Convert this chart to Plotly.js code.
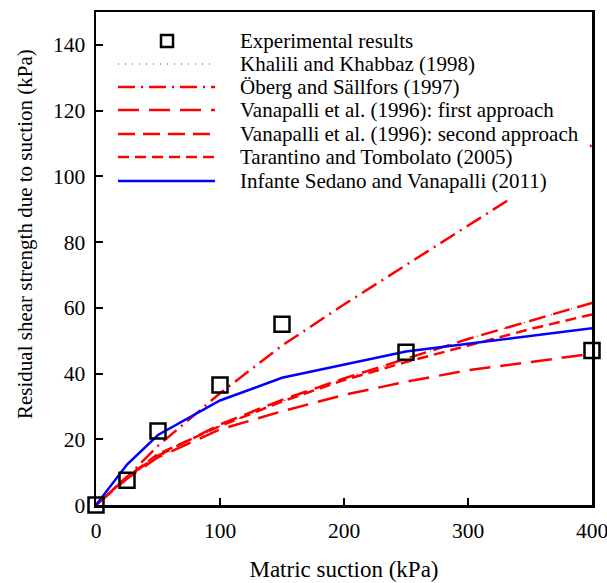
<!DOCTYPE html>
<html>
<head>
<meta charset="utf-8">
<script src="https://cdn.plot.ly/plotly-3.0.1.min.js"></script>
<style>html,body{margin:0;padding:0;background:#fff;}#chart{width:607px;height:583px;}</style>
</head>
<body>
<div id="chart"></div>
<script>
// Experimental data
const suctionExp = [0, 25, 50, 100, 150, 250, 400];
const tauExp = [0, 7.5, 22.5, 36.5, 55, 46.5, 47];

// Model predictions
const suctionModel = [0, 25, 50, 100, 150, 200, 250, 300, 350, 400];
const tauKhalili = [0, 8, 14.5, 24, 31.5, 38.5, 44.5, 50.5, 56, 61.5];
const tauOberg = [0, 8.5, 18, 34, 48.5, 61, 73, 85, 97, 109.5];
const tauVanapalli1 = [0, 8, 14.5, 23, 28.5, 33.5, 37.5, 41, 43.5, 46];
const tauVanapalli2 = [0, 8.5, 15, 24.5, 32, 38.5, 44.5, 50.5, 56, 61.5];
const tauTarantino = [0, 8.5, 15.5, 24, 31.5, 38, 43.5, 48.5, 53.5, 58];
const suctionInfante = [0, 25, 50, 100, 150, 250, 400];
const tauInfante = [0, 12.3, 21.3, 31.8, 38.7, 46.7, 53.8];

const xTicks = [0, 100, 200, 300, 400];
const yTicks = [0, 20, 40, 60, 80, 100, 120, 140];

const names = [
  "Experimental results",
  "Khalili and Khabbaz (1998)",
  "Öberg and Sällfors (1997)",
  "Vanapalli et al. (1996): first approach",
  "Vanapalli et al. (1996): second approach",
  "Tarantino and Tombolato (2005)",
  "Infante Sedano and Vanapalli (2011)"
];
const xTitle = "Matric suction (kPa)";
const yTitle = "Residual shear strength due to suction (kPa)";

const FONT = "'Liberation Serif', 'Times New Roman', Times, serif";
const RED = "#ff0000", BLUE = "#0000ff";
const dashKhalili = "1px,6px";
const dashOberg = "17px,6px,2px,6px";
const dashV1 = "21px,10px";
const dashV2 = "17px,8px";
const dashTar = "11px,6px";

const traces = [
  {x: suctionModel, y: tauKhalili, mode: "lines", line: {color: RED, width: 1.2, dash: dashKhalili}},
  {x: suctionModel, y: tauOberg, mode: "lines", line: {color: RED, width: 2.5, dash: dashOberg}},
  {x: suctionModel, y: tauVanapalli1, mode: "lines", line: {color: RED, width: 2.5, dash: dashV1}},
  {x: suctionModel, y: tauVanapalli2, mode: "lines", line: {color: RED, width: 2.5, dash: dashV2}},
  {x: suctionModel, y: tauTarantino, mode: "lines", line: {color: RED, width: 2.5, dash: dashTar}},
  {x: suctionInfante, y: tauInfante, mode: "lines", line: {color: BLUE, width: 2.5}},
  {x: suctionExp, y: tauExp, mode: "markers", cliponaxis: false,
   marker: {symbol: "square-open", size: 15, color: "#000", line: {width: 2.5, color: "#000"}}}
];
traces.forEach(t => t.showlegend = false);

// Manual legend (layout positions in pixels converted to paper coords)
const L = 96, R = 592, T = 12, B = 505;
const px = v => (v - L) / (R - L);
const py = v => (B - v) / (B - T);
const rowY = [41, 64, 87, 110, 134, 157, 181];
const shapes = [];
const annotations = [];
// opaque legend background (hides curves behind the legend, as in the reference)
shapes.push({type: "rect", xref: "paper", yref: "paper", layer: "above",
  x0: px(108), x1: px(588), y0: py(200), y1: py(25),
  line: {width: 0}, fillcolor: "#ffffff"});
const lineStyles = [null,
  {color: RED, width: 1.2, dash: dashKhalili},
  {color: RED, width: 2.5, dash: dashOberg},
  {color: RED, width: 2.5, dash: dashV1},
  {color: RED, width: 2.5, dash: dashV2},
  {color: RED, width: 2.5, dash: dashTar},
  {color: BLUE, width: 2.5, dash: "solid"}];
rowY.forEach((yy, i) => {
  if (i === 0) {
    shapes.push({type: "rect", xref: "paper", yref: "paper", layer: "above",
      x0: px(161), x1: px(173), y0: py(47), y1: py(35),
      line: {color: "#000", width: 2.5}, fillcolor: "rgba(0,0,0,0)"});
  } else {
    shapes.push({type: "line", xref: "paper", yref: "paper", layer: "above",
      x0: px(118), x1: px(215), y0: py(yy), y1: py(yy), line: lineStyles[i]});
  }
  annotations.push({xref: "paper", yref: "paper", x: px(237.5), y: py(yy),
    xanchor: "left", yanchor: "middle", showarrow: false, text: names[i],
    font: {family: FONT, size: 21, color: "#000"}});
});
// y-axis title (placed as in the reference, slightly above the axis centre)
annotations.push({xref: "paper", yref: "paper", x: px(25), y: py(234),
  xanchor: "center", yanchor: "middle", textangle: -90, showarrow: false,
  text: yTitle, font: {family: FONT, size: 21, color: "#000"}});

const layout = {
  width: 607, height: 583,
  margin: {l: L, r: 607 - R, t: T, b: 583 - B},
  paper_bgcolor: "#fff", plot_bgcolor: "#fff",
  font: {family: FONT, size: 21, color: "#000"},
  showlegend: false,
  xaxis: {
    range: [0, 400], tickvals: xTicks,
    ticks: "inside", ticklen: 7, tickwidth: 2, tickcolor: "#000",
    showline: true, linewidth: 2.5, linecolor: "#000", mirror: true,
    showgrid: false, zeroline: false, ticklabeloverflow: "allow",
    ticklabelstandoff: 5,
    tickfont: {family: FONT, size: 21.5},
    title: {text: xTitle, font: {family: FONT, size: 23}, standoff: 19}
  },
  yaxis: {
    range: [0, 150], tickvals: yTicks,
    ticks: "inside", ticklen: 7, tickwidth: 2, tickcolor: "#000",
    showline: true, linewidth: 2.5, linecolor: "#000", mirror: true,
    showgrid: false, zeroline: false, ticklabelstandoff: 4,
    tickfont: {family: FONT, size: 21.5}
  },
  shapes: shapes,
  annotations: annotations
};

Plotly.newPlot("chart", traces, layout, {staticPlot: true, displayModeBar: false});
</script>
</body>
</html>
